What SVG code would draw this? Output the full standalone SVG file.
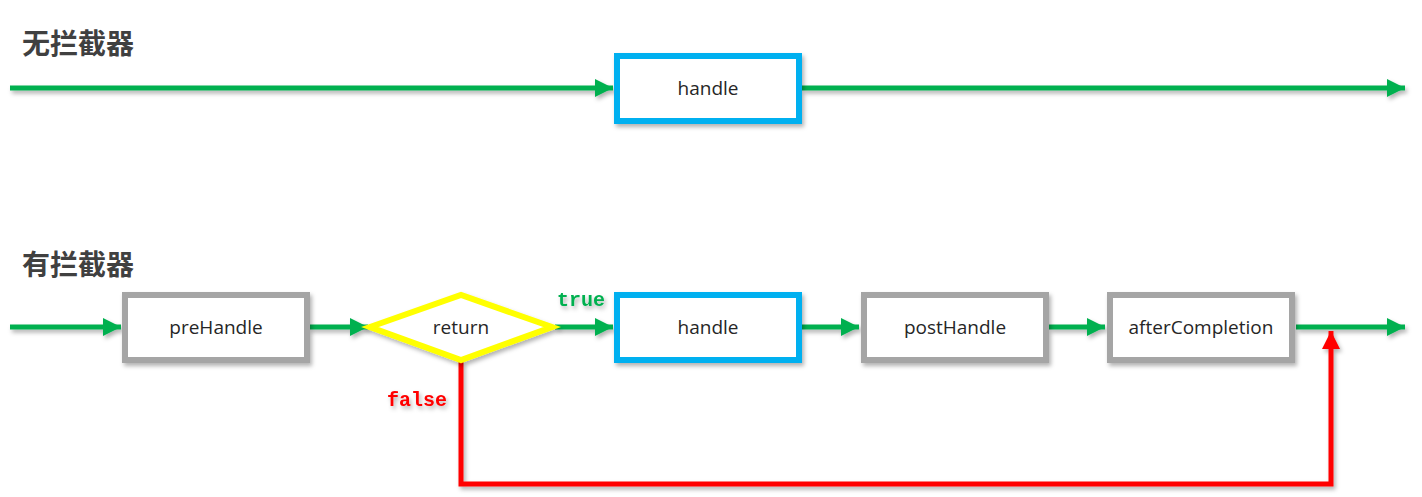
<svg xmlns="http://www.w3.org/2000/svg" width="1422" height="497" viewBox="0 0 1422 497">
<style>
.title{font-family:"Noto Sans CJK SC","Noto Sans",sans-serif;font-size:28px;font-weight:bold;fill:#404040}
.lbl{font-family:"Open Sans","Liberation Sans",sans-serif;font-size:19px;fill:#262626;text-anchor:middle;dominant-baseline:central}
.g{stroke:#00B050;stroke-width:5;fill:none}
.r{stroke:#FF0000;stroke-width:5;fill:none}
.box{fill:#fff;stroke-width:6}
.gray{stroke:#A5A5A5}
.blue{stroke:#00B0F0}
.mono{font-family:"Liberation Mono","DejaVu Sans Mono",monospace;font-size:20px;font-weight:bold}
</style>
<defs>
<filter id="sh" x="-10%" y="-20%" width="130%" height="150%">
<feDropShadow dx="2" dy="3" stdDeviation="2" flood-color="#000" flood-opacity="0.3"/>
</filter>
<marker id="ag" viewBox="0 0 10 10" refX="10" refY="5" markerWidth="4" markerHeight="3.6" markerUnits="strokeWidth" orient="auto"><path d="M0,0 L10,5 L0,10 z" fill="#00B050"/></marker>
<marker id="ar" viewBox="0 0 10 10" refX="10" refY="5" markerWidth="4" markerHeight="3.6" markerUnits="strokeWidth" orient="auto"><path d="M0,0 L10,5 L0,10 z" fill="#FF0000"/></marker>
</defs>
<text class="title" x="22" y="54">无拦截器</text>
<text class="title" x="22" y="275">有拦截器</text>
<g id="connectors" filter="url(#sh)">
<line class="g" x1="10" y1="88" x2="613" y2="88" marker-end="url(#ag)"/>
<line class="g" x1="802" y1="88" x2="1405" y2="88" marker-end="url(#ag)"/>
<line class="g" x1="10" y1="327" x2="121" y2="327" marker-end="url(#ag)"/>
<line class="g" x1="309" y1="327" x2="368" y2="327" marker-end="url(#ag)"/>
<line class="g" x1="555" y1="327" x2="613" y2="327" marker-end="url(#ag)"/>
<line class="g" x1="802" y1="327" x2="859" y2="327" marker-end="url(#ag)"/>
<line class="g" x1="1049" y1="327" x2="1105" y2="327" marker-end="url(#ag)"/>
<line class="g" x1="1296" y1="327" x2="1405" y2="327" marker-end="url(#ag)"/>
<polyline class="r" points="461,362 461,484 1331,484 1331,331" marker-end="url(#ar)"/>
<text class="mono" x="557" y="306" fill="#00B050">true</text>
<text class="mono" x="387" y="406" fill="#FF0000">false</text>
</g>
<g id="handle-top">
<rect class="box blue" x="617" y="56" width="182" height="65" filter="url(#sh)"/>
<text class="lbl" x="708" y="88">handle</text>
</g>
<g id="preHandle">
<rect class="box gray" x="125" y="295" width="182" height="65" filter="url(#sh)"/>
<text class="lbl" x="216" y="327">preHandle</text>
</g>
<g id="return">
<polygon points="370,327 461,295 552,327 461,360" fill="#fff" stroke="#FFFF00" stroke-width="6" filter="url(#sh)"/>
<text class="lbl" x="461" y="327">return</text>
</g>
<g id="handle">
<rect class="box blue" x="617" y="295" width="182" height="65" filter="url(#sh)"/>
<text class="lbl" x="708" y="327">handle</text>
</g>
<g id="postHandle">
<rect class="box gray" x="864" y="295" width="182" height="65" filter="url(#sh)"/>
<text class="lbl" x="955" y="327">postHandle</text>
</g>
<g id="afterCompletion">
<rect class="box gray" x="1110" y="295" width="182" height="65" filter="url(#sh)"/>
<text class="lbl" x="1201" y="327">afterCompletion</text>
</g>
</svg>
